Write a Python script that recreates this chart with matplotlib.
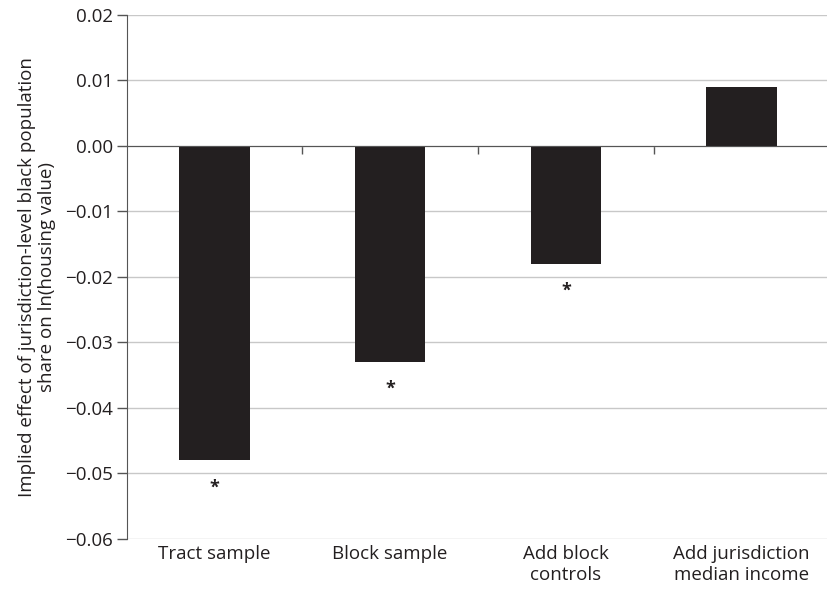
import numpy as np
import matplotlib.pyplot as plt
from matplotlib.ticker import FuncFormatter
import matplotlib.transforms as mtransforms

plt.rcParams['font.family'] = ['Open Sans', 'DejaVu Sans']

# estimates for each specification
labels = ['Tract sample', 'Block sample', 'Add block\ncontrols', 'Add jurisdiction\nmedian income']
effects = [-0.048, -0.033, -0.018, 0.009]
significant = [True, True, True, False]

yticks = np.arange(-0.06, 0.0201, 0.01)

fig = plt.figure(figsize=(8.27, 5.92), dpi=100)
ax = fig.add_axes([0.153, 0.0895, 0.85, 0.8855])

x = np.arange(len(labels))
ax.bar(x, effects, width=0.4, color='#231f20', zorder=3)

# asterisk under the significant bars
for xi, v, s in zip(x, effects, significant):
    if s:
        ax.annotate('*', (xi, v), xytext=(0, -13), textcoords='offset points',
                    ha='center', va='top', fontsize=13, fontweight='bold',
                    color='#231f20')

ax.set_xlim(-0.5, len(labels) - 0.5)
ax.set_ylim(-0.06, 0.02)
ax.set_yticks(yticks)
ax.yaxis.set_major_formatter(FuncFormatter(lambda v, p: f'{v:.2f}'.replace('-', '\u2212')))
ax.grid(axis='y', color='#c8c8c8', linewidth=1, zorder=0)
ax.tick_params(axis='y', labelsize=13.5, labelcolor='#231f20', color='#555555',
               length=7, width=1, pad=3)

# x axis sits on zero, ticks at the category boundaries
ax.spines['bottom'].set_position(('data', 0))
ax.spines['bottom'].set_color('#555555')
ax.spines['bottom'].set_zorder(4)
ax.spines['left'].set_color('#555555')
ax.spines['top'].set_visible(False)
ax.spines['right'].set_visible(False)
ax.set_xticks(np.arange(0.5, len(labels) - 0.5, 1))
ax.set_xticklabels([])
ax.tick_params(axis='x', color='#555555', length=6, width=1, direction='out')

trans = mtransforms.blended_transform_factory(ax.transData, ax.transAxes)
for xi, lab in zip(x, labels):
    ax.text(xi, -0.012, lab, transform=trans, ha='center', va='top',
            fontsize=13.5, color='#231f20', linespacing=1.2)

ax.set_ylabel('Implied effect of jurisdiction-level black population\nshare on ln(housing value)',
              fontsize=13.5, color='#231f20', labelpad=6, linespacing=1.2)

fig.savefig('out.png', dpi=100)
